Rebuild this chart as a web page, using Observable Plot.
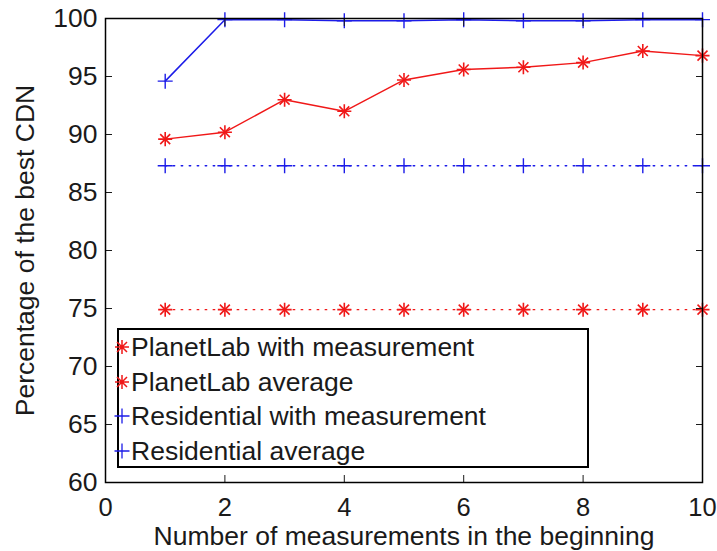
<!DOCTYPE html>
<html><head><meta charset="utf-8">
<script src="https://cdn.jsdelivr.net/npm/d3@7"></script>
<script src="https://cdn.jsdelivr.net/npm/@observablehq/plot@0.6"></script>
<style>
body{margin:0;background:#fff;}
#wrap{position:relative;width:717px;height:551px;font-family:"Liberation Sans",Arial,sans-serif;}
.legend{position:absolute;left:117px;top:328px;width:468px;height:136px;border:2px solid #000;background:#fff;font-size:26.5px;color:#1a1a1a;}
.row{position:absolute;left:0;height:30px;line-height:30px;white-space:nowrap;}
.row svg{position:absolute;left:-5px;top:7px;}
.row span{position:absolute;left:12px;top:0;}
</style></head><body><div id="wrap"></div>
<script>
const measurements = [1, 2, 3, 4, 5, 6, 7, 8, 9, 10];
const planetLabWithMeasurement = [89.6, 90.2, 93.0, 92.0, 94.7, 95.6, 95.8, 96.2, 97.2, 96.8];
const planetLabAverage = [74.9, 74.9, 74.9, 74.9, 74.9, 74.9, 74.9, 74.9, 74.9, 74.9];
const residentialWithMeasurement = [94.6, 99.9, 99.9, 99.8, 99.8, 99.9, 99.8, 99.8, 99.9, 99.9];
const residentialAverage = [87.3, 87.3, 87.3, 87.3, 87.3, 87.3, 87.3, 87.3, 87.3, 87.3];
const xTicks = [0, 2, 4, 6, 8, 10];
const yTicks = [60, 65, 70, 75, 80, 85, 90, 95, 100];
const seriesNames = ["PlanetLab with measurement", "PlanetLab average", "Residential with measurement", "Residential average"];

const red = "#f01818", blue = "#1c1ce8";
const mk = (vals) => measurements.map((x, i) => ({x, y: vals[i]}));
const plw = mk(planetLabWithMeasurement), pla = mk(planetLabAverage);
const rw = mk(residentialWithMeasurement), ra = mk(residentialAverage);

const asterisk = (data, color) => [
  Plot.dot(data, {x: "x", y: "y", symbol: "plus", r: 4.6, stroke: color, strokeWidth: 1.6}),
  Plot.dot(data, {x: "x", y: "y", symbol: "times", r: 4.6, stroke: color, strokeWidth: 1.6})
];
const plus = (data, color) => Plot.dot(data, {x: "x", y: "y", symbol: "plus", r: 4.9, stroke: color, strokeWidth: 1.4});

const chart = Plot.plot({
  width: 717, height: 551,
  marginLeft: 105, marginRight: 15, marginTop: 18, marginBottom: 69,
  style: {fontFamily: '"Liberation Sans", Arial, sans-serif', fontSize: "26px", color: "#1a1a1a", background: "#fff", overflow: "visible"},
  x: {domain: [0, 10]},
  y: {domain: [60, 100]},
  marks: [
    Plot.line(pla, {x: "x", y: "y", stroke: red, strokeWidth: 1.4, strokeDasharray: "1.5,6.5"}),
    Plot.line(ra, {x: "x", y: "y", stroke: blue, strokeWidth: 1.4, strokeDasharray: "1.5,6.5"}),
    Plot.line(plw, {x: "x", y: "y", stroke: red, strokeWidth: 1.4}),
    Plot.line(rw, {x: "x", y: "y", stroke: blue, strokeWidth: 1.5}),
    ...asterisk(plw, red), ...asterisk(pla, red),
    plus(rw, blue), plus(ra, blue),
    Plot.axisX({ticks: xTicks, tickSize: 0, tickPadding: 15, fontSize: 25.5, label: null}),
    Plot.axisX({ticks: xTicks, anchor: "bottom", tickSize: -7, text: null, label: null}),
    Plot.axisX({ticks: xTicks, anchor: "top", tickSize: -7, text: null, label: null}),
    Plot.axisY({ticks: yTicks, tickSize: 0, tickPadding: 8, fontSize: 26.5, label: null}),
    Plot.axisY({ticks: yTicks, anchor: "left", tickSize: -7, text: null, label: null}),
    Plot.axisY({ticks: yTicks, anchor: "right", tickSize: -7, text: null, label: null}),
    Plot.frame({stroke: "#000", strokeWidth: 1.5}),
    Plot.text(["Number of measurements in the beginning"], {frameAnchor: "bottom", dy: 62, fontSize: 26.5, fill: "#1a1a1a"}),
    Plot.text(["Percentage of the best CDN"], {frameAnchor: "left", dx: -80, rotate: -90, textAnchor: "middle", fontSize: 26.5, fill: "#1a1a1a"})
  ]
});
const wrap = document.getElementById("wrap");
wrap.appendChild(chart);

const legend = document.createElement("div");
legend.className = "legend";
const markerSvg = (kind, color) => kind === "ast"
  ? `<svg width="16" height="16" viewBox="-8 -8 16 16"><path d="M-7,0H7M0,-7V7M-5,-5L5,5M-5,5L5,-5" stroke="${color}" stroke-width="1.5"/></svg>`
  : `<svg width="16" height="16" viewBox="-8 -8 16 16"><path d="M-7.5,0H7.5M0,-7.5V7.5" stroke="${color}" stroke-width="1.3"/></svg>`;
const kinds = [["ast", red], ["ast", red], ["plus", blue], ["plus", blue]];
seriesNames.forEach((name, i) => {
  const row = document.createElement("div");
  row.className = "row";
  row.style.top = (2 + i * 34.5) + "px";
  row.innerHTML = markerSvg(kinds[i][0], kinds[i][1]) + `<span>${name}</span>`;
  legend.appendChild(row);
});
wrap.appendChild(legend);
</script>
</body></html>
